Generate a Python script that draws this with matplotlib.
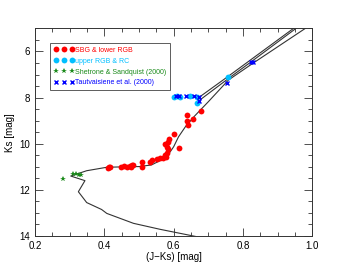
import matplotlib
matplotlib.use('Agg')
import matplotlib.pyplot as plt
from matplotlib.ticker import MultipleLocator, FormatStrFormatter

plt.rcParams['font.family'] = ['Liberation Sans', 'DejaVu Sans']

# SBG & lower RGB
sbg_x = [0.679, 0.639, 0.657, 0.638, 0.642, 0.601, 0.587, 0.583, 0.575, 0.580,
         0.584, 0.615, 0.580, 0.576, 0.577, 0.570, 0.561, 0.552, 0.537, 0.533,
         0.509, 0.508, 0.482, 0.479, 0.476, 0.473, 0.464, 0.458, 0.448, 0.416,
         0.413, 0.410]
sbg_y = [8.58, 8.76, 8.93, 9.02, 9.19, 9.59, 9.80, 9.91, 10.01, 10.16,
         10.24, 10.20, 10.39, 10.51, 10.56, 10.61, 10.64, 10.68, 10.71, 10.81,
         10.81, 11.00, 10.92, 10.92, 11.00, 10.97, 11.00, 10.97, 11.00, 11.03,
         11.03, 11.04]

# upper RGB & RC
rgb_x = [0.601, 0.609, 0.618, 0.647, 0.666, 0.666, 0.756]
rgb_y = [7.96, 7.93, 7.99, 7.92, 7.96, 8.22, 7.10]

# Shetrone & Sandquist (2000)
shet_x = [0.280, 0.310, 0.318, 0.328, 0.334]
shet_y = [11.52, 11.31, 11.33, 11.34, 11.37]

# Tautvaisiene et al. (2000)
taut_x = [0.607, 0.616, 0.637, 0.659, 0.674, 0.674, 0.755, 0.823, 0.830]
taut_y = [7.93, 7.93, 7.93, 7.93, 7.96, 8.14, 7.36, 6.47, 6.47]

# isochrone: main sequence -> turnoff -> RGB
iso_x = [0.690, 0.657, 0.561, 0.484, 0.407, 0.392, 0.349, 0.325, 0.344, 0.303,
         0.349, 0.407, 0.460, 0.500, 0.536, 0.565, 0.585, 0.600, 0.614, 0.634,
         0.661, 0.700, 0.758, 0.828, 0.900, 0.990]
iso_y = [14.10, 14.00, 13.71, 13.45, 13.02, 12.85, 12.55, 12.08, 11.60, 11.40,
         11.17, 11.02, 11.00, 10.99, 10.92, 10.70, 10.46, 10.13, 9.70, 9.26,
         8.79, 8.18, 7.24, 6.52, 5.80, 4.90]

# horizontal branch / AGB tracks
agb1_x = [0.676, 0.760, 0.828, 0.955]
agb1_y = [7.96, 7.05, 6.30, 4.90]
agb2_x = [0.676, 0.760, 0.828, 0.962]
agb2_y = [8.10, 7.15, 6.40, 4.90]

fig = plt.figure(figsize=(3.47, 2.78), dpi=100)
ax = fig.add_axes([0.101, 0.151, 0.799, 0.747])

ax.plot(iso_x, iso_y, color='#333333', lw=0.8)
ax.plot(agb1_x, agb1_y, color='#333333', lw=0.8)
ax.plot(agb2_x, agb2_y, color='#333333', lw=0.8)

ax.plot(sbg_x, sbg_y, 'o', ms=4.2, color='#ff0000', mew=0, label='SBG & lower RGB', zorder=3)
ax.plot(rgb_x, rgb_y, 'o', ms=4.2, color='#00bfff', mew=0, label='upper RGB & RC', zorder=3)
ax.plot(shet_x, shet_y, '*', ms=4, color='#1a8a1a', mew=0,
        label='Shetrone & Sandquist (2000)', zorder=3)
ax.plot(taut_x, taut_y, 'x', ms=3.3, color='#0000ff', mew=1.0,
        label='Tautvaisiene et al. (2000)', zorder=4)

ax.set_xlim(0.2, 1.0)
ax.set_ylim(14, 5)
ax.xaxis.set_major_locator(MultipleLocator(0.2))
ax.xaxis.set_minor_locator(MultipleLocator(0.05))
ax.xaxis.set_major_formatter(FormatStrFormatter('%.1f'))
ax.yaxis.set_major_locator(MultipleLocator(2))
ax.yaxis.set_minor_locator(MultipleLocator(0.5))
ax.tick_params(which='both', direction='in', top=True, right=True, labelsize=7,
               width=0.6, color='#333333')
ax.tick_params(which='major', length=5.5)
ax.tick_params(which='minor', length=3)
for s in ax.spines.values():
    s.set_linewidth(0.7)
    s.set_color('#333333')

ax.set_xlabel('(J\u2212Ks) [mag]', fontsize=7, labelpad=1)
ax.set_ylabel('Ks [mag]', fontsize=7, labelpad=3)

leg = ax.legend(loc='upper left', bbox_to_anchor=(0.054, 0.929), borderaxespad=0,
                numpoints=3, fontsize=5.0, frameon=True, fancybox=False,
                edgecolor='#333333', handlelength=2.9, handletextpad=0.1,
                labelspacing=0.55, borderpad=0.55)
leg.get_frame().set_linewidth(0.7)
for t, c in zip(leg.get_texts(), ['#ff0000', '#00bfff', '#1a8a1a', '#0000ff']):
    t.set_color(c)

fig.savefig('out.png', dpi=100)
